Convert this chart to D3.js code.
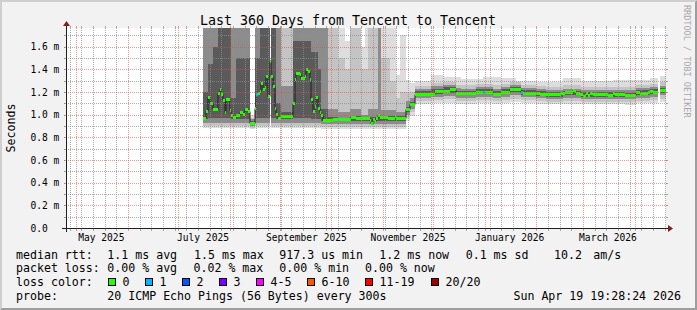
<!DOCTYPE html>
<html>
<head>
<meta charset="utf-8">
<script src="https://cdn.jsdelivr.net/npm/d3@7"></script>
<style>
  html, body { margin: 0; padding: 0; background: #f2f2f2; }
  svg { display: block; font-family: "DejaVu Sans Mono", monospace; }
</style>
</head>
<body>
<svg id="chart" width="697" height="310"></svg>
<script>
// ---- chart values ----
const TITLE = 'Last 360 Days from Tencent to Tencent';
const rangeStart = Date.UTC(2025, 3, 24, 19, 28, 24);
const rangeEnd = Date.UTC(2026, 3, 19, 19, 28, 24);
const dataStart = Date.UTC(2025, 6, 16); // day 0 of the day-indexed arrays
const yMaxMs = 1.765;

const yMajorTicks = [0.2, 0.4, 0.6, 0.8, 1.0, 1.2, 1.4, 1.6];
const yMinorTicks = [0.1, 0.3, 0.5, 0.7, 0.9, 1.1, 1.3, 1.5, 1.7];
const yTickValues = [0, 0.2, 0.4, 0.6, 0.8, 1.0, 1.2, 1.4, 1.6];
const yTickLabels = ['0.0', '0.2 m', '0.4 m', '0.6 m', '0.8 m', '1.0 m', '1.2 m', '1.4 m', '1.6 m'];
const xLabelMonths = [Date.UTC(2025, 4, 1), Date.UTC(2025, 6, 1), Date.UTC(2025, 8, 1),
                      Date.UTC(2025, 10, 1), Date.UTC(2026, 0, 1), Date.UTC(2026, 2, 1)];
const xLabelTexts = ['May 2025', 'July 2025', 'September 2025', 'November 2025', 'January 2026', 'March 2026'];

// median rtt (ms) as steps: value holds from medDay[i] until medDay[i+1]
const medDay = [0,2,3,4,6,9,10,11,12,13,14,16,17,18,20,21,22,24,25,27,28,31,32,33,34,35,36,37,38,39,
  40,41,42,43,44,45,47,54,55,56,58,59,61,62,63,64,65,66,67,68,69,70,71,72,78,89,92,100,101,102,
  103,104,105,106,111,115,116,122,124,127,139,148,152,155,164,174,179,184,191,192,193,197,202,206,215,217,222,223,224,226,
  228,229,230,231,232,234,243,246,247,253,260,262,263,267,268,269,270,273,274,278];
const medVal = [0.970,1.030,1.160,1.100,1.053,1.194,1.230,1.180,1.130,1.024,1.140,1.041,0.995,0.982,0.995,1.000,1.024,1.010,1.053,1.030,
  0.927,1.060,1.180,1.195,1.210,1.277,1.224,1.240,1.340,1.165,1.474,1.340,1.253,1.060,1.010,0.973,0.988,1.100,1.318,1.371,
  1.356,1.327,1.341,1.406,1.386,1.312,1.141,1.030,1.077,1.159,1.060,1.024,0.995,0.953,0.965,0.982,0.968,0.950,0.929,0.965,
  0.945,0.970,0.997,0.980,0.973,0.988,0.970,1.047,1.097,1.185,1.209,1.224,1.194,1.188,1.203,1.185,1.203,1.224,1.200,1.195,
  1.188,1.194,1.185,1.180,1.188,1.197,1.215,1.205,1.194,1.185,1.168,1.175,1.188,1.174,1.188,1.180,1.174,1.188,1.180,1.174,
  1.197,1.185,1.188,1.200,1.212,1.205,1.197,null,1.215,1.215];

// days with packet loss (count of 20)
const lossDay = [32, 168, 191];
const lossCount = [1, 1, 1];

// smoke: runs starting at smokeDay[i], four nested bands (1 = outer/light ... 4 = inner/dark)
const smokeDay = [0,3,6,9,17,20,28,31,34,40,41,44,47,54,65,69,71,75,81,85,88,95,97,99,105,107,112,116,118,122,124,
  127,137,144,152,155,164,168,174,179,184,188,191,200,206,216,227,234,246,253,260,268,273,274,278];
const smokeLo1 = [.88,.88,.88,.88,.88,.88,.87,.88,.88,null,.88,.88,.88,.88,.88,.88,.875,.875,.875,.875,.875,.875,.875,.875,.875,.875,.875,.875,.875,.94,.99,
  1.09,1.10,1.10,1.095,1.095,1.10,1.10,1.095,1.10,1.11,1.11,1.10,1.095,1.09,1.095,1.09,1.09,1.09,1.085,1.10,1.10,null,1.11];
const smokeLo2 = [.90,.90,.90,.90,.90,.90,.885,.90,.90,null,.90,.90,.90,.90,.90,.90,.895,.895,.895,.895,.895,.895,.895,.895,.895,.895,.895,.895,.895,.97,1.02,
  1.12,1.13,1.135,1.125,1.125,1.13,1.13,1.125,1.13,1.14,1.14,1.13,1.12,1.115,1.12,1.115,1.115,1.115,1.11,1.125,1.13,null,1.14];
const smokeLo3 = [.93,.93,.93,.93,.93,.93,.90,.93,.93,null,.93,.93,.93,.93,.93,.93,.92,.92,.92,.92,.92,.92,.92,.92,.92,.92,.92,.92,.92,1.0,1.05,
  1.145,1.16,1.165,1.15,1.15,1.16,1.16,1.15,1.16,1.17,1.17,1.155,1.145,1.14,1.15,1.14,1.14,1.14,1.135,1.15,1.16,null,1.17];
const smokeLo4 = [.96,.97,.97,.97,.96,.96,.915,.97,.97,null,.97,.96,.96,.97,.96,.96,.945,.945,.945,.945,.945,.945,.945,.945,.945,.945,.945,.945,.945,1.025,1.075,
  1.165,1.185,1.195,1.17,1.17,1.18,1.18,1.165,1.18,1.20,1.20,1.175,1.165,1.16,1.17,1.16,1.16,1.16,1.155,1.175,1.18,null,1.195];
const smokeHi4 = [1.20,1.45,1.60,2,1.15,1.50,.945,1.50,2,null,2,1.10,1.02,1.65,1.55,1.40,1.05,.98,.975,.975,.99,.975,.975,.98,1.0,.99,.99,.985,.985,1.07,1.115,
  1.205,1.23,1.24,1.21,1.21,1.225,1.225,1.205,1.225,1.245,1.245,1.215,1.205,1.20,1.21,1.20,1.20,1.20,1.195,1.215,1.225,null,1.235];
const smokeHi3 = [2,2,2,2,2,2,.96,2,2,null,2,2,1.25,2,2,2,2,1.05,1.02,1.02,1.05,1.0,1.0,1.05,2,1.04,1.04,1.02,1.02,1.12,1.15,
  1.225,1.25,1.26,1.235,1.23,1.245,1.245,1.23,1.245,1.265,1.265,1.235,1.225,1.22,1.23,1.22,1.22,1.22,1.215,1.235,1.245,null,1.255];
const smokeHi2 = [2,2,2,2,2,2,.975,2,2,null,2,2,2,2,2,2,2,2,1.5,1.4,2,1.4,1.4,2,2,1.5,1.3,1.15,1.2,1.2,1.2,
  1.255,1.28,1.29,1.265,1.26,1.275,1.275,1.26,1.275,1.29,1.29,1.26,1.25,1.245,1.26,1.245,1.245,1.245,1.24,1.265,1.275,null,1.285];
const smokeHi1 = [2,2,2,2,2,2,1.0,2,2,null,2,2,2,2,2,2,2,2,2,1.65,2,1.6,2,2,2,2,2,1.35,1.7,1.31,1.28,
  1.30,1.35,1.33,1.33,1.315,1.315,1.33,1.33,1.32,1.32,1.30,1.30,1.29,1.29,1.32,1.30,1.30,1.31,1.31,1.31,1.325,null,1.34];

// legend texts
const statsRtt = ['1.1 ms avg', '1.5 ms max', '917.3 us min', '1.2 ms now', '0.1 ms sd', '10.2', 'am/s'];
const statsLoss = ['0.00 % avg', '0.02 % max', '0.00 % min', '0.00 % now'];
const lossLabels = ['0', '1', '2', '3', '4-5', '6-10', '11-19', '20/20'];
const lossColors = ['#26ff00', '#00b8ff', '#0059ff', '#7e00ff', '#ff00ff', '#ff5500', '#ff0000', '#a10000'];
const probeText = '20 ICMP Echo Pings (56 Bytes) every 300s';
const stampText = 'Sun Apr 19 19:28:24 2026';

// ---- drawing ----
const W = 697, H = 310;
const X0 = 66, X1 = 666, YTOP = 28, YBOT = 228;
const GRID = 'rgba(143,143,143,0.75)';
const MGRID = 'rgba(222,79,79,0.6)';
const SMOKE = ['#dddddd', '#c4c4c4', '#8c8c8c', '#5a5a5a'];

const svg = d3.select('#chart');
const x = d3.scaleUtc().domain([rangeStart, rangeEnd]).range([X0, X1]);
const y = d3.scaleLinear().domain([0, yMaxMs]).range([YBOT, YTOP]).clamp(true);
const dayX = d => x(dataStart + d * 864e5);
const snap = v => Math.round(v) + 0.5;

// background and bevel
svg.append('rect').attr('width', W).attr('height', H).attr('fill', '#f2f2f2');
svg.append('polygon').attr('points', `0,${H} 2,${H - 2} 2,2 ${W - 2},2 ${W},0 0,0`).attr('fill', '#cfcfcf');
svg.append('polygon').attr('points', `2,${H - 2} ${W - 2},${H - 2} ${W - 2},2 ${W},0 ${W},${H} 0,${H}`).attr('fill', '#9e9e9e');

svg.append('rect').attr('x', X0).attr('y', YTOP).attr('width', X1 - X0).attr('height', YBOT - YTOP).attr('fill', '#fff');

svg.append('defs').append('clipPath').attr('id', 'plotClip')
  .append('rect').attr('x', X0).attr('y', YTOP).attr('width', X1 - X0).attr('height', YBOT - YTOP);
const plot = svg.append('g').attr('clip-path', 'url(#plotClip)');

// smoke bands, outer first
const bands = [[smokeLo1, smokeHi1], [smokeLo2, smokeHi2], [smokeLo3, smokeHi3], [smokeLo4, smokeHi4]];
bands.forEach(([lo, hi], k) => {
  const runs = smokeDay.slice(0, -1)
    .map((d, i) => ({ d0: d, d1: smokeDay[i + 1], lo: lo[i], hi: hi[i] }))
    .filter(r => r.lo != null);
  plot.append('g').selectAll('rect')
    .data(runs)
    .join('rect')
    .attr('x', r => Math.round(dayX(r.d0)))
    .attr('width', r => Math.round(dayX(r.d1)) - Math.round(dayX(r.d0)))
    .attr('y', r => Math.round(y(r.hi)))
    .attr('height', r => Math.round(y(r.lo)) - Math.round(y(r.hi)))
    .attr('fill', SMOKE[k])
    .attr('shape-rendering', 'crispEdges');
});

// median: dark step line, then loss-coloured band on top
const segs = medDay.slice(0, -1).map((d, i) => ({ d0: d, d1: medDay[i + 1], v: medVal[i] }));
const p = d3.path();
let open = false;
segs.forEach(s => {
  if (s.v == null) { open = false; return; }
  const yy = snap(y(s.v));
  if (!open) p.moveTo(Math.round(dayX(s.d0)), yy); else p.lineTo(Math.round(dayX(s.d0)), yy);
  p.lineTo(Math.round(dayX(s.d1)), yy);
  open = true;
});
plot.append('path').attr('d', p.toString()).attr('fill', 'none').attr('stroke', '#202020').attr('stroke-width', 1);

const bandOf = d => {
  const j = lossDay.indexOf(d);
  return j < 0 ? lossColors[0] : lossColors[lossCount[j]];
};
plot.append('g').selectAll('rect')
  .data(segs.filter(s => s.v != null))
  .join('rect')
  .attr('x', s => Math.round(dayX(s.d0)))
  .attr('width', s => Math.round(dayX(s.d1)) - Math.round(dayX(s.d0)))
  .attr('y', s => Math.round(y(s.v)) - 1)
  .attr('height', 3)
  .attr('fill', lossColors[0])
  .attr('shape-rendering', 'crispEdges');
plot.append('g').selectAll('rect')
  .data(lossDay.map(d => ({ d, v: segs.find(s => s.d0 <= d && d < s.d1).v })))
  .join('rect')
  .attr('x', r => Math.round(dayX(r.d)))
  .attr('width', r => Math.round(dayX(r.d + 1)) - Math.round(dayX(r.d)))
  .attr('y', r => Math.round(y(r.v)) - 1)
  .attr('height', 3)
  .attr('fill', r => bandOf(r.d))
  .attr('shape-rendering', 'crispEdges');

// grid (drawn over the data, like rrdtool); half-pixel coords give crisp 1px dots
const grid = svg.append('g').attr('fill', 'none');
function hLine(v, color) {
  const yy = snap(y(v));
  grid.append('line').attr('x1', X0 - 2).attr('x2', X1 + 2).attr('y1', yy).attr('y2', yy)
    .attr('stroke', color).attr('stroke-dasharray', '1,1');
  grid.append('line').attr('x1', X0 - 2).attr('x2', X0).attr('y1', yy).attr('y2', yy).attr('stroke', color);
  grid.append('line').attr('x1', X1).attr('x2', X1 + 2).attr('y1', yy).attr('y2', yy).attr('stroke', color);
}
function vLine(t, color) {
  const xx = snap(x(t));
  grid.append('line').attr('x1', xx).attr('x2', xx).attr('y1', YTOP).attr('y2', YBOT)
    .attr('stroke', color).attr('stroke-dasharray', '1,1');
  grid.append('line').attr('x1', xx).attr('x2', xx).attr('y1', YBOT + 1).attr('y2', YBOT + 3).attr('stroke', color);
  grid.append('line').attr('x1', xx).attr('x2', xx).attr('y1', YTOP - 2).attr('y2', YTOP).attr('stroke', color);
}
yMinorTicks.forEach(v => hLine(v, GRID));
const months = d3.utcMonth.range(rangeStart, rangeEnd);
d3.utcSunday.range(rangeStart, rangeEnd)
  .filter(t => !months.some(m => +m === +t))
  .forEach(t => vLine(t, GRID));
yMajorTicks.forEach(v => hLine(v, MGRID));
months.forEach(t => vLine(t, MGRID));

// axes and arrows
svg.append('line').attr('x1', X0 - 4).attr('x2', X1 + 4).attr('y1', YBOT + 0.5).attr('y2', YBOT + 0.5)
  .attr('stroke', '#1f1f1f');
svg.append('line').attr('x1', X0 + 0.5).attr('x2', X0 + 0.5).attr('y1', YBOT + 4).attr('y2', YTOP - 4)
  .attr('stroke', '#1f1f1f');
svg.append('polygon').attr('points', `${X1 + 2},${YBOT - 3} ${X1 + 2},${YBOT + 4} ${X1 + 7},${YBOT + 0.5}`).attr('fill', '#801f1f');
svg.append('polygon').attr('points', `${X0 - 3},${YTOP - 2} ${X0 + 4},${YTOP - 2} ${X0 + 0.5},${YTOP - 7}`).attr('fill', '#801f1f');

// axis labels
svg.append('g').selectAll('text')
  .data(yTickValues)
  .join('text')
  .attr('x', 30.5)
  .attr('y', v => y(v) + 3.5)
  .attr('font-size', '9.6px')
  .attr('fill', '#000')
  .text((v, i) => yTickLabels[i]);

svg.append('g').selectAll('text')
  .data(xLabelMonths)
  .join('text')
  .attr('x', t => x(d3.utcDay.offset(new Date(t), 15)))
  .attr('y', 241)
  .attr('text-anchor', 'middle')
  .attr('font-size', '9.6px')
  .attr('fill', '#000')
  .text((t, i) => xLabelTexts[i]);

svg.append('text').attr('x', 348).attr('y', 24.5).attr('text-anchor', 'middle')
  .attr('font-size', '13.3px').attr('fill', '#000').text(TITLE);

svg.append('text').attr('transform', `translate(15,${(YTOP + YBOT) / 2}) rotate(-90)`)
  .attr('text-anchor', 'middle').attr('font-size', '11.6px').attr('fill', '#000').text('Seconds');

svg.append('text').attr('transform', 'translate(683.5,5) rotate(90)')
  .attr('font-size', '8.5px').attr('fill', '#a8a8a8').text('RRDTOOL / TOBI OETIKER');

// legend
const leg = svg.append('g').attr('font-size', '11.6px').attr('fill', '#000').style('white-space', 'pre');
const rows = [258.5, 272.2, 285.9, 299.6];
const put = (s, xx, yy, anchor) => leg.append('text').attr('x', xx).attr('y', yy)
  .attr('text-anchor', anchor || 'start').text(s);

put('median rtt:', 16, rows[0]);
[107.3, 194, 279.3, 379.3, 465.7, 554, 593.3].forEach((xx, i) => put(statsRtt[i], xx, rows[0]));
put('packet loss:', 16, rows[1]);
[107.3, 193.5, 279.3, 365].forEach((xx, i) => put(statsLoss[i], xx, rows[1]));
put('loss color:', 16, rows[2]);
const boxX = [108, 145, 182, 219, 256, 307, 365, 431];
lossLabels.forEach((lab, i) => {
  leg.append('rect').attr('x', boxX[i] + 0.5).attr('y', 278.5).attr('width', 7).attr('height', 7)
    .attr('fill', lossColors[i]).attr('stroke', '#000').attr('stroke-width', 1)
    .attr('shape-rendering', 'crispEdges');
  put(lab, boxX[i] + 14.5, rows[2]);
});
put('probe:', 16, rows[3]);
put(probeText, 107.3, rows[3]);
put(stampText, 681, rows[3], 'end');
</script>
</body>
</html>
